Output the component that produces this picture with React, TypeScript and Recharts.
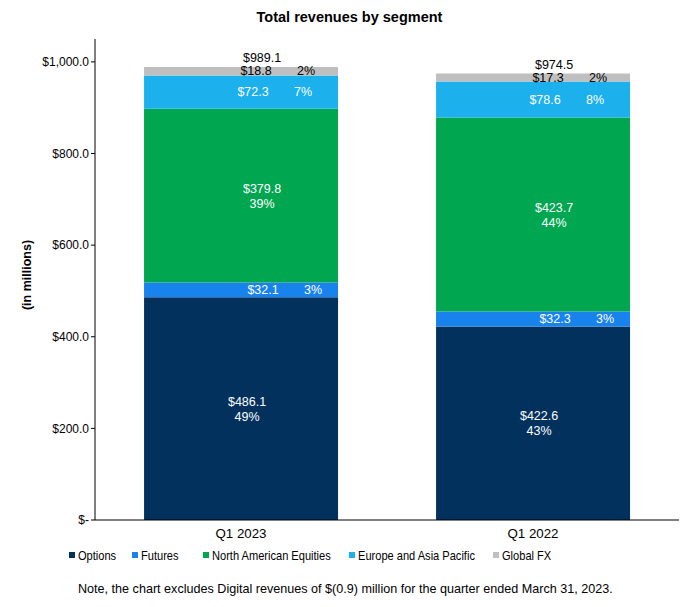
import { BarChart, Bar, XAxis, YAxis, LabelList } from 'recharts';

const quarters = ['Q1 2023', 'Q1 2022'];
const options = [486.1, 422.6];
const futures = [32.1, 32.3];
const equities = [379.8, 423.7];
const europeAsia = [72.3, 78.6];
const globalFx = [18.8, 17.3];
const totals = [989.1, 974.5];

const optionsPct = ['49%', '43%'];
const futuresPct = ['3%', '3%'];
const equitiesPct = ['39%', '44%'];
const europeAsiaPct = ['7%', '8%'];
const globalFxPct = ['2%', '2%'];

const yTicks = [0, 200, 400, 600, 800, 1000];

const data = quarters.map((q, i) => ({
  quarter: q,
  options: options[i],
  futures: futures[i],
  equities: equities[i],
  europeAsia: europeAsia[i],
  globalFx: globalFx[i],
  total: totals[i],
  optionsPct: optionsPct[i],
  futuresPct: futuresPct[i],
  equitiesPct: equitiesPct[i],
  europeAsiaPct: europeAsiaPct[i],
  globalFxPct: globalFxPct[i],
}));

const font = '"Liberation Sans", Arial, sans-serif';

const series = [
  { key: 'options', name: 'Options', color: '#03315e', text: '#ffffff', twoLine: true, dx: 6 },
  { key: 'futures', name: 'Futures', color: '#1883ec', text: '#ffffff', twoLine: false, dx: 22 },
  { key: 'equities', name: 'North American Equities', color: '#00a650', text: '#ffffff', twoLine: true, dx: 21 },
  { key: 'europeAsia', name: 'Europe and Asia Pacific', color: '#1cb0ec', text: '#ffffff', twoLine: false, dx: 12 },
  { key: 'globalFx', name: 'Global FX', color: '#bfbfbf', text: '#000000', twoLine: false, dx: 15 },
];

// legend marker x positions
const legendX = [69, 132, 203, 349, 493];

const fmtMoney = (v: number) => {
  if (v === 0) return '$-';
  return '$' + v.toLocaleString('en-US', { minimumFractionDigits: 1, maximumFractionDigits: 1 });
};

function makeLabel(s: (typeof series)[number]) {
  return (props: any) => {
    const { x, y, width, height, index } = props;
    const row = data[index] as any;
    const cx = Number(x) + Number(width) / 2;
    const cy = Number(y) + Number(height) / 2;
    const val = '$' + row[s.key].toFixed(1);
    const pct = row[s.key + 'Pct'];
    if (s.twoLine) {
      return (
        <g>
          <text x={cx + s.dx} y={cy - 7} fill={s.text} fontSize={12.5} fontFamily={font} textAnchor="middle" dominantBaseline="central">{val}</text>
          <text x={cx + s.dx} y={cy + 8} fill={s.text} fontSize={12.5} fontFamily={font} textAnchor="middle" dominantBaseline="central">{pct}</text>
        </g>
      );
    }
    return (
      <g>
        <text x={cx + s.dx} y={cy} fill={s.text} fontSize={12.5} fontFamily={font} textAnchor="middle" dominantBaseline="central">{val}</text>
        <text x={cx + s.dx + 50} y={cy} fill={s.text} fontSize={12.5} fontFamily={font} textAnchor="middle" dominantBaseline="central">{pct}</text>
      </g>
    );
  };
}

const totalLabel = (props: any) => {
  const { x, y, width, index } = props;
  const cx = Number(x) + Number(width) / 2;
  return (
    <text x={cx + 21} y={Number(y) - 9} fill="#000" fontSize={12.5} fontFamily={font} textAnchor="middle" dominantBaseline="central">
      {'$' + totals[index].toFixed(1)}
    </text>
  );
};

export default function App() {
  return (
    <div style={{ position: 'absolute', left: 0, top: 0, width: 699, height: 607, background: '#fff', fontFamily: font }}>
      <div style={{ position: 'absolute', left: 0, top: 9, width: 699, textAlign: 'center', fontSize: 14.5, fontWeight: 'bold' }}>
        Total revenues by segment
      </div>
      <div
        style={{
          position: 'absolute', left: 27, top: 275, fontSize: 12.5, fontWeight: 'bold',
          transform: 'translate(-50%, -50%) rotate(-90deg)', whiteSpace: 'nowrap',
        }}
      >
        (in millions)
      </div>
      <div style={{ position: 'absolute', left: 0, top: 0 }}>
        <BarChart
          width={699}
          height={545}
          data={data}
          margin={{ top: 39, right: 20, left: 35, bottom: 0 }}
          barCategoryGap="16.8%"
        >
          <XAxis
            dataKey="quarter"
            height={25}
            tickLine={false}
            axisLine={{ stroke: '#000' }}
            tick={{ fontSize: 13.3, fill: '#000', fontFamily: font }}
            tickMargin={3}
          />
          <YAxis
            width={60}
            domain={[0, 1050]}
            ticks={yTicks}
            tickFormatter={fmtMoney}
            axisLine={{ stroke: '#000' }}
            tickLine={{ stroke: '#000' }}
            tickSize={4}
            tick={{ fontSize: 12, fill: '#000', fontFamily: font }}
            allowDataOverflow
          />
          {series.map((s) => (
            <Bar key={s.key} dataKey={s.key} stackId="a" fill={s.color} isAnimationActive={false}>
              <LabelList dataKey={s.key} content={makeLabel(s)} />
              {s.key === 'globalFx' && <LabelList dataKey="total" content={totalLabel} />}
            </Bar>
          ))}
        </BarChart>
      </div>
      {series.map((s, i) => (
        <div
          key={s.key}
          style={{
            position: 'absolute', left: legendX[i], top: 546, height: 18, display: 'flex', alignItems: 'center',
            fontSize: 13.5, whiteSpace: 'nowrap',
          }}
        >
          <span style={{ display: 'inline-block', width: 6, height: 6, background: s.color, marginRight: 3 }} />
          <span style={{ display: 'inline-block', transform: 'scaleX(0.82)', transformOrigin: 'left center' }}>{s.name}</span>
        </div>
      ))}
      <div style={{ position: 'absolute', left: 78, top: 582, fontSize: 12.6 }}>
        Note, the chart excludes Digital revenues of $(0.9) million for the quarter ended March 31, 2023.
      </div>
    </div>
  );
}
